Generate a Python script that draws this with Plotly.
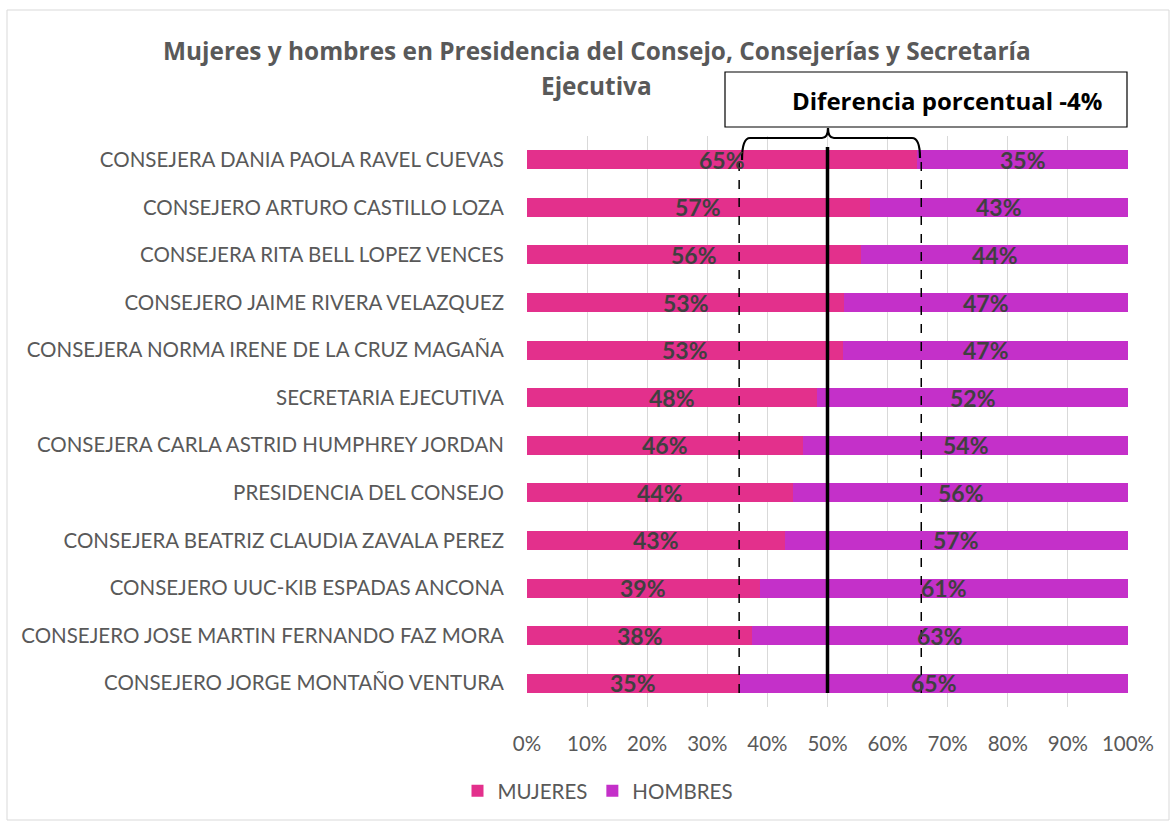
import plotly.graph_objects as go

categories = [
    "CONSEJERA DANIA PAOLA RAVEL CUEVAS",
    "CONSEJERO ARTURO CASTILLO LOZA",
    "CONSEJERA RITA BELL LOPEZ VENCES",
    "CONSEJERO JAIME RIVERA VELAZQUEZ",
    "CONSEJERA NORMA IRENE DE LA CRUZ MAGAÑA",
    "SECRETARIA EJECUTIVA",
    "CONSEJERA CARLA ASTRID HUMPHREY JORDAN",
    "PRESIDENCIA DEL CONSEJO",
    "CONSEJERA BEATRIZ CLAUDIA ZAVALA PEREZ",
    "CONSEJERO UUC-KIB ESPADAS ANCONA",
    "CONSEJERO JOSE MARTIN FERNANDO FAZ MORA",
    "CONSEJERO JORGE MONTAÑO VENTURA",
]
mujeres = [0.649, 0.570, 0.556, 0.528, 0.526, 0.483, 0.460, 0.443, 0.429, 0.387, 0.375, 0.354]
hombres = [round(1 - m, 3) for m in mujeres]
mujeres_labels = ["65%", "57%", "56%", "53%", "53%", "48%", "46%", "44%", "43%", "39%", "38%", "35%"]
hombres_labels = ["35%", "43%", "44%", "47%", "47%", "52%", "54%", "56%", "57%", "61%", "63%", "65%"]
x_ticks = [0, 0.1, 0.2, 0.3, 0.4, 0.5, 0.6, 0.7, 0.8, 0.9, 1.0]
x_ticktext = ["0%", "10%", "20%", "30%", "40%", "50%", "60%", "70%", "80%", "90%", "100%"]
diferencia_text = "Diferencia porcentual -4%"
title_line1 = "Mujeres y hombres en Presidencia del Consejo, Consejerías y Secretaría"
title_line2 = "Ejecutiva"
ref_line = 0.5
dash_left = 0.353
dash_right = 0.656

W, H = 1172, 823
L, R, T, B = 527, 44, 136, 116
PW, PH = W - L - R, H - T - B

def px(xp):
    return (xp - L) / PW

def py(yp):
    return (H - B - yp) / PH

FONT = "Lato"
TFONT = "Open Sans"
PINK = "#E3308C"
PURPLE = "#C430C9"
GRAY = "#595959"

fig = go.Figure()
fig.add_trace(go.Bar(y=categories, x=mujeres, name="MUJERES", orientation="h",
                     marker=dict(color=PINK, line=dict(width=0)), width=0.4))
fig.add_trace(go.Bar(y=categories, x=hombres, name="HOMBRES", orientation="h",
                     marker=dict(color=PURPLE, line=dict(width=0)), width=0.4))

for c, m, h, ml, hl in zip(categories, mujeres, hombres, mujeres_labels, hombres_labels):
    fig.add_annotation(x=m / 2, y=c, text=ml, showarrow=False, yshift=0,
                       font=dict(family=FONT, size=23, color="#404040", weight="bold"))
    fig.add_annotation(x=m + h / 2, y=c, text=hl, showarrow=False, yshift=0,
                       font=dict(family=FONT, size=23, color="#404040", weight="bold"))

# reference lines
fig.add_shape(type="line", xref="x", yref="paper", x0=ref_line, x1=ref_line,
              y0=py(693), y1=py(147), line=dict(color="black", width=3.5), layer="above")
for dx in (dash_left, dash_right):
    fig.add_shape(type="line", xref="x", yref="paper", x0=dx, x1=dx,
                  y0=py(693), y1=py(158), line=dict(color="black", width=1.5, dash="dash"),
                  layer="above")

# brace
def P(xp, yp):
    return f"{px(xp):.5f},{py(yp):.5f}"

xl, xr, xm = 742, 920, 828
path = (f"M {P(xl, 160)} Q {P(xl, 138)} {P(xl + 8, 138)} L {P(xm - 6, 138)} "
        f"Q {P(xm, 138)} {P(xm, 128)} Q {P(xm, 138)} {P(xm + 6, 138)} "
        f"L {P(xr - 8, 138)} Q {P(xr, 138)} {P(xr, 158)}")
fig.add_shape(type="path", xref="paper", yref="paper", path=path,
              line=dict(color="black", width=2.2), layer="above")

# box
fig.add_shape(type="rect", xref="paper", yref="paper", x0=px(725), x1=px(1127),
              y0=py(127), y1=py(72), fillcolor="white", line=dict(color="black", width=1.2),
              layer="above")
fig.add_annotation(xref="paper", yref="paper", x=px(947), y=py(101), text=diferencia_text,
                   xanchor="center", yanchor="middle",
                   showarrow=False, font=dict(family=TFONT, size=24, color="black", weight="bold"))

# title
fig.add_annotation(xref="paper", yref="paper", x=px(597), y=py(50), text=title_line1,
                   xanchor="center", yanchor="middle",
                   showarrow=False, font=dict(family=TFONT, size=24.4, color=GRAY, weight="bold"))
fig.add_annotation(xref="paper", yref="paper", x=px(596), y=py(85), text=title_line2,
                   xanchor="center", yanchor="middle",
                   showarrow=False, font=dict(family=TFONT, size=24.4, color=GRAY, weight="bold"))

# outer border
fig.add_shape(type="rect", xref="paper", yref="paper", x0=px(7), x1=px(1169),
              y0=py(820), y1=py(10), line=dict(color="#D9D9D9", width=1), layer="below")

fig.update_layout(
    width=W, height=H, barmode="stack",
    margin=dict(l=L, r=R, t=T, b=B, autoexpand=False),
    plot_bgcolor="white", paper_bgcolor="white",
    font=dict(family=FONT, size=20, color=GRAY),
    bargap=0.6,
    legend=dict(orientation="h", x=px(598), xanchor="center", y=py(791), yanchor="middle",
                font=dict(family=FONT, size=20.5, color=GRAY), itemwidth=30, traceorder="normal"),
    showlegend=True,
)
fig.update_xaxes(range=[0, 1], tickvals=x_ticks, ticktext=x_ticktext, showgrid=True,
                 gridcolor="#D9D9D9", gridwidth=1, zeroline=False, showline=False,
                 ticklabelstandoff=22, tickfont=dict(family=FONT, size=20.5, color=GRAY))
fig.update_yaxes(categoryorder="array", categoryarray=categories, autorange="reversed",
                 showgrid=False, zeroline=False, showline=False,
                 ticklabelstandoff=22, tickfont=dict(family=FONT, size=20.5, color=GRAY))

fig.write_html("out.html", config={"displayModeBar": False},
               post_script="document.body.style.margin='0';")
